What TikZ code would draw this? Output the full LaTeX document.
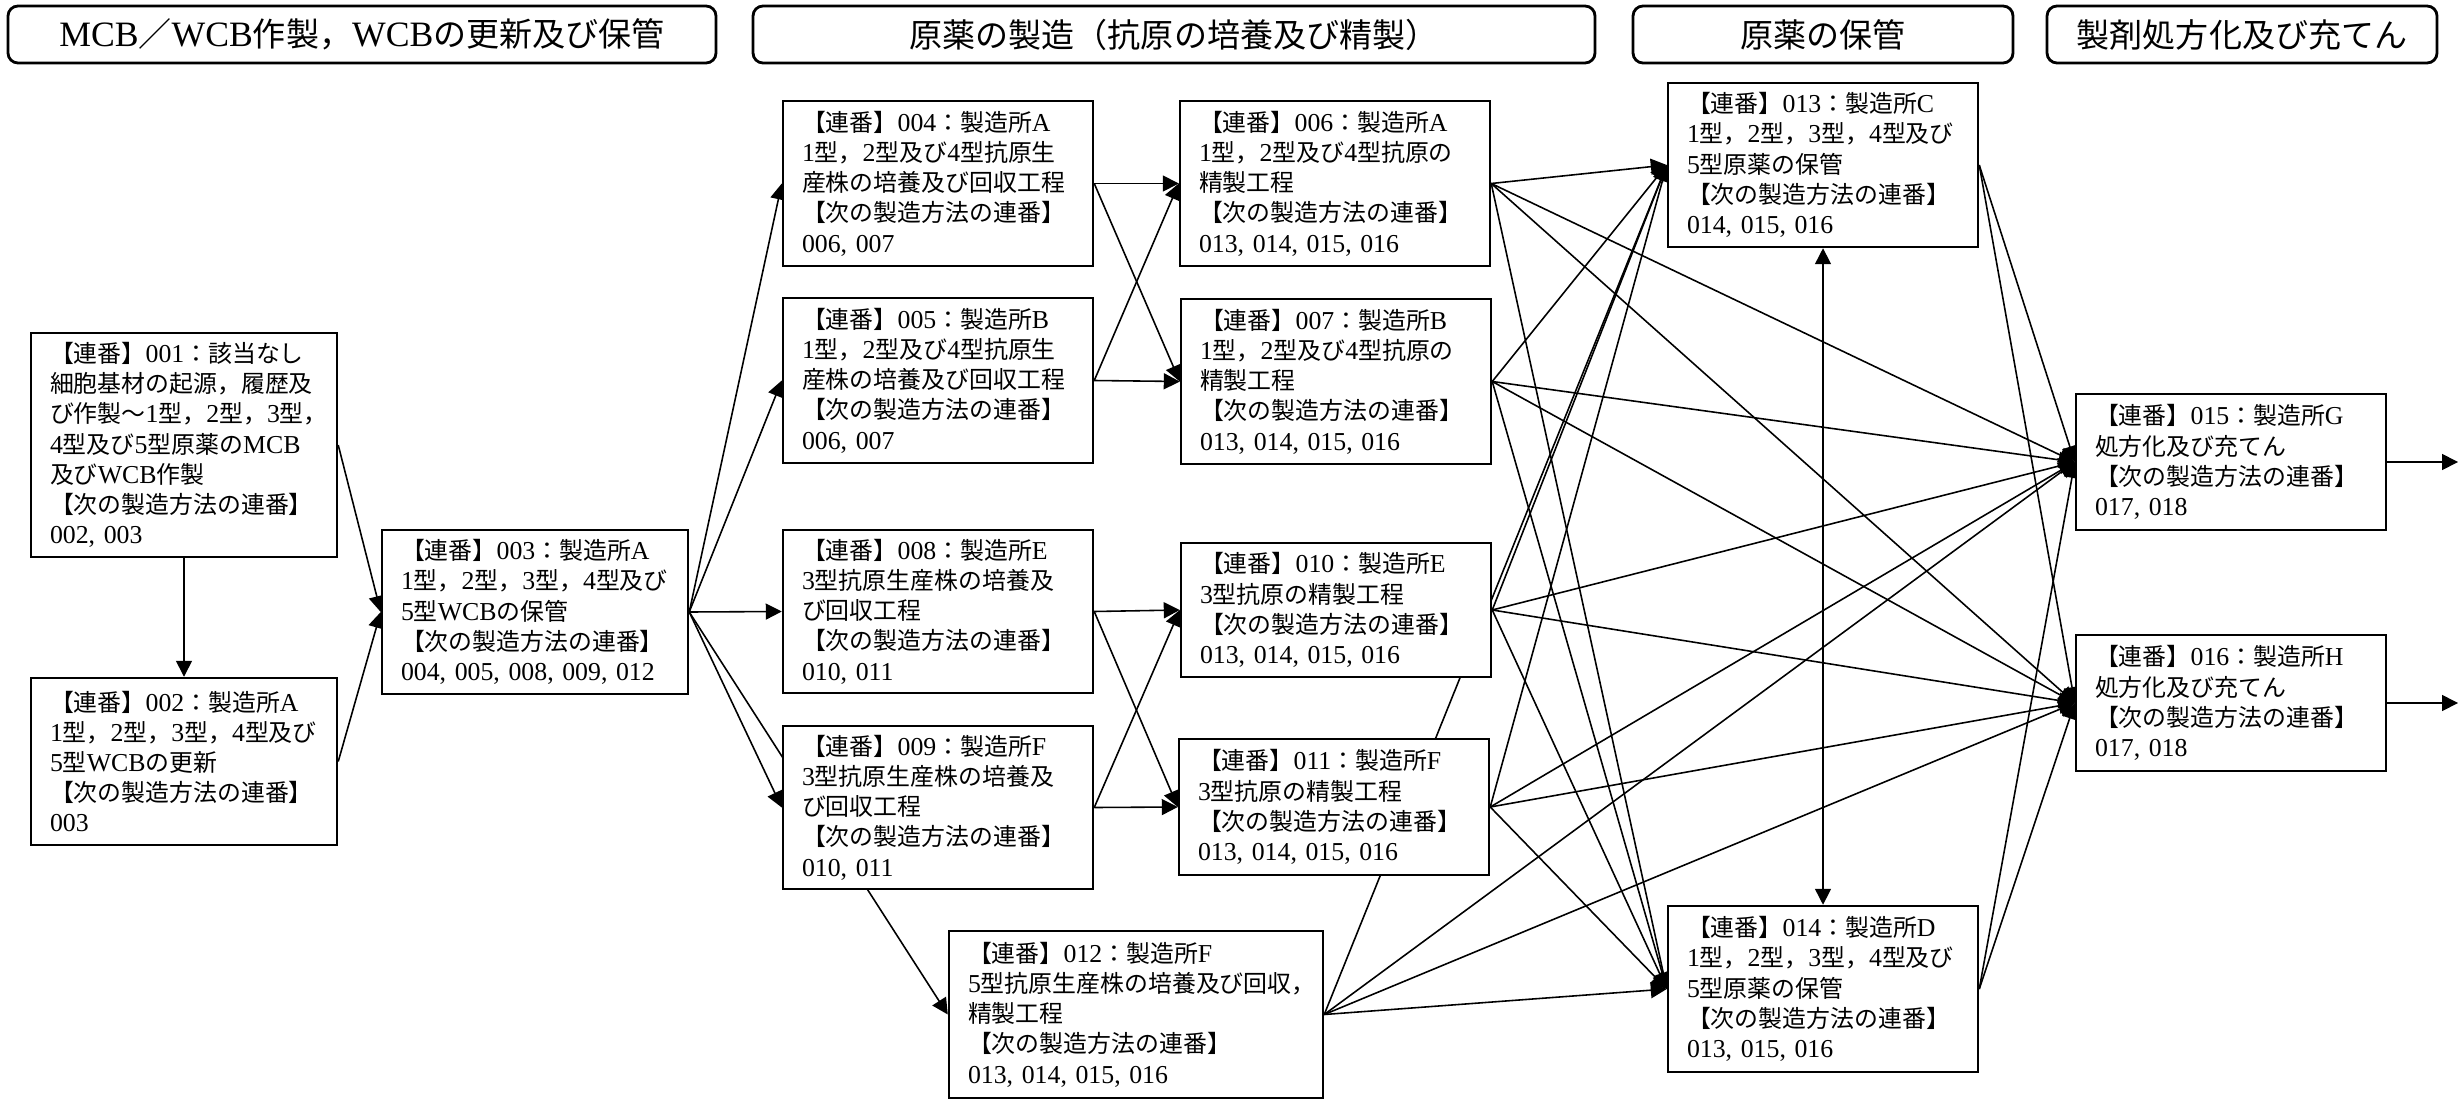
\documentclass[tikz,border=0pt]{standalone}
\usepackage{fontspec}
\setmainfont[Scale=1.08]{Liberation Serif}
\newfontfamily\jpfont{Noto Sans CJK JP}
\usetikzlibrary{arrows.meta}
\pgfdeclarelayer{bg}
\pgfsetlayers{bg,main}

\newcount\jpc
\newcommand\jprange[2]{\jpc=#1\relax\loop\ifnum\jpc<#2\relax\XeTeXcharclass\jpc=10\relax\advance\jpc by 1\relax\repeat}
\jprange{12288}{12544}
\jprange{19968}{40960}
\jprange{65280}{65520}
\XeTeXinterchartokenstate=1
\XeTeXinterchartoks 0 10 = {\jpfont}
\XeTeXinterchartoks 4095 10 = {\jpfont}
\XeTeXinterchartoks 10 0 = {\rmfamily}
\XeTeXinterchartoks 10 4095 = {\rmfamily}

\newcommand\procfont{\fontsize{6.8pt}{8.6pt}\selectfont}
\newcommand\headfont{\fontsize{9.4pt}{11pt}\selectfont}

\begin{document}
\begin{tikzpicture}[x=0.1mm, y=-0.1mm,
    proc/.style 2 args={draw, fill=white, line width=0.7pt, inner xsep=1.9mm, inner ysep=0pt, align=left, text width=#1mm-3.8mm, minimum height=#2mm, font=\procfont},
    head/.style={draw, rounded corners=1mm, line width=0.8pt, minimum width=#1mm, minimum height=5.7mm, inner sep=0pt, font=\headfont},
    flow/.style={line width=0.45pt, -{Triangle[length=1.6mm, width=1.6mm]}},
    twoway/.style={line width=0.45pt, {Triangle[length=1.6mm, width=1.6mm]}-{Triangle[length=1.6mm, width=1.6mm]}}]
    \useasboundingbox (0,0) rectangle (2458,1099);

    \node[head=70.8] (hd1) at (362,34.5) {MCB／WCB作製，WCBの更新及び保管};
    \node[head=84.2] (hd2) at (1174,34.5) {原薬の製造（抗原の培養及び精製）};
    \node[head=38.0] (hd3) at (1823,34.5) {原薬の保管};
    \node[head=39.0] (hd4) at (2242,34.5) {製剤処方化及び充てん};

    \node[proc={30.6}{22.4}] (n001) at (184,445) {【連番】001：該当なし\\細胞基材の起源，履歴及\\び作製～1型，2型，3型，\\4型及び5型原薬のMCB\\及びWCB作製\\【次の製造方法の連番】\\002, 003};
    \node[proc={30.6}{16.7}] (n002) at (184,761.5) {【連番】002：製造所A\\1型，2型，3型，4型及び\\5型WCBの更新\\【次の製造方法の連番】\\003};
    \node[proc={30.6}{16.4}] (n003) at (535,612) {【連番】003：製造所A\\1型，2型，3型，4型及び\\5型WCBの保管\\【次の製造方法の連番】\\004, 005, 008, 009, 012};
    \node[proc={31.0}{16.5}] (n004) at (938,183.5) {【連番】004：製造所A\\1型，2型及び4型抗原生\\産株の培養及び回収工程\\【次の製造方法の連番】\\006, 007};
    \node[proc={31.0}{16.5}] (n005) at (938,380.5) {【連番】005：製造所B\\1型，2型及び4型抗原生\\産株の培養及び回収工程\\【次の製造方法の連番】\\006, 007};
    \node[proc={31.0}{16.5}] (n006) at (1335,183.5) {【連番】006：製造所A\\1型，2型及び4型抗原の\\精製工程\\【次の製造方法の連番】\\013, 014, 015, 016};
    \node[proc={31.0}{16.5}] (n007) at (1336,381.5) {【連番】007：製造所B\\1型，2型及び4型抗原の\\精製工程\\【次の製造方法の連番】\\013, 014, 015, 016};
    \node[proc={31.0}{16.3}] (n008) at (938,611.5) {【連番】008：製造所E\\3型抗原生産株の培養及\\び回収工程\\【次の製造方法の連番】\\010, 011};
    \node[proc={31.0}{16.3}] (n009) at (938,807.5) {【連番】009：製造所F\\3型抗原生産株の培養及\\び回収工程\\【次の製造方法の連番】\\010, 011};
    \node[proc={31.0}{13.4}] (n010) at (1336,610) {【連番】010：製造所E\\3型抗原の精製工程\\【次の製造方法の連番】\\013, 014, 015, 016};
    \node[proc={31.0}{13.6}] (n011) at (1334,807) {【連番】011：製造所F\\3型抗原の精製工程\\【次の製造方法の連番】\\013, 014, 015, 016};
    \node[proc={37.4}{16.7}] (n012) at (1136,1014.5) {【連番】012：製造所F\\5型抗原生産株の培養及び回収，\\精製工程\\【次の製造方法の連番】\\013, 014, 015, 016};
    \node[proc={31.0}{16.4}] (n013) at (1823,165) {【連番】013：製造所C\\1型，2型，3型，4型及び\\5型原薬の保管\\【次の製造方法の連番】\\014, 015, 016};
    \node[proc={31.0}{16.6}] (n014) at (1823,989) {【連番】014：製造所D\\1型，2型，3型，4型及び\\5型原薬の保管\\【次の製造方法の連番】\\013, 015, 016};
    \node[proc={31.0}{13.6}] (n015) at (2231,462) {【連番】015：製造所G\\処方化及び充てん\\【次の製造方法の連番】\\017, 018};
    \node[proc={31.0}{13.6}] (n016) at (2231,703) {【連番】016：製造所H\\処方化及び充てん\\【次の製造方法の連番】\\017, 018};

    \coordinate (out015) at (2458,462);
    \coordinate (out016) at (2458,703);

    \begin{pgfonlayer}{bg}
    \draw[flow] (n001.south) -- (n002.north);
    \draw[flow] (n001.east) -- (n003.west);
    \draw[flow] (n002.east) -- (n003.west);
    \foreach \t in {004,005,008,009,012} { \draw[flow] (n003.east) -- (n\t.west); }
    \foreach \s in {004,005} { \foreach \t in {006,007} { \draw[flow] (n\s.east) -- (n\t.west); } }
    \foreach \s in {008,009} { \foreach \t in {010,011} { \draw[flow] (n\s.east) -- (n\t.west); } }
    \foreach \s in {006,007,010,011,012} { \foreach \t in {013,014,015,016} { \draw[flow] (n\s.east) -- (n\t.west); } }
    \foreach \s in {013,014} { \foreach \t in {015,016} { \draw[flow] (n\s.east) -- (n\t.west); } }
    \draw[twoway] (n013.south) -- (n014.north);
    \draw[flow] (n015.east) -- (out015);
    \draw[flow] (n016.east) -- (out016);
    \end{pgfonlayer}
\end{tikzpicture}
\end{document}
